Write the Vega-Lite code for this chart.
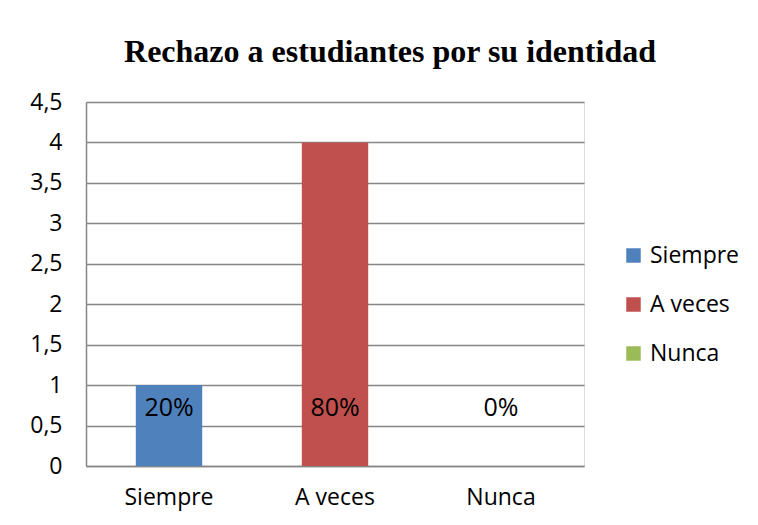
{
  "$schema": "https://vega.github.io/schema/vega-lite/v6.json",
  "width": 498,
  "height": 364,
  "autosize": "none",
  "padding": {"left": 86, "top": 102, "right": 174, "bottom": 59},
  "background": "white",
  "title": {
    "text": "Rechazo a estudiantes por su identidad",
    "font": "Liberation Serif",
    "fontSize": 32,
    "fontWeight": "bold",
    "color": "black",
    "anchor": "middle",
    "dx": 55,
    "offset": 22
  },
  "data": {
    "values": [
      {"categoria": "Siempre", "valor": 1, "etiqueta": "20%"},
      {"categoria": "A veces", "valor": 4, "etiqueta": "80%"},
      {"categoria": "Nunca", "valor": 0, "etiqueta": "0%"}
    ]
  },
  "encoding": {
    "x": {
      "field": "categoria",
      "type": "nominal",
      "sort": ["Siempre", "A veces", "Nunca"],
      "scale": {"paddingInner": 0.6, "paddingOuter": 0.3},
      "axis": {
        "title": null,
        "labelAngle": 0,
        "labelFont": "Open Sans",
        "labelFontSize": 23,
        "labelColor": "black",
        "labelPadding": 20,
        "ticks": false,
        "domainColor": "#868686",
        "domainWidth": 1.5,
        "grid": false
      }
    }
  },
  "layer": [
    {
      "mark": {"type": "bar"},
      "encoding": {
        "y": {
          "field": "valor",
          "type": "quantitative",
          "scale": {"domain": [0, 4.5], "nice": false},
          "axis": {
            "title": null,
            "values": [0, 0.5, 1, 1.5, 2, 2.5, 3, 3.5, 4, 4.5],
            "format": ".1~f",
            "labelExpr": "replace(datum.label, '.', ',')",
            "labelFont": "Open Sans",
            "labelFontSize": 23,
            "labelColor": "black",
            "labelPadding": 24,
            "ticks": false,
            "domainColor": "#868686",
            "domainWidth": 1.5,
            "gridColor": "#868686",
            "gridWidth": 1.5
          }
        },
        "color": {
          "field": "categoria",
          "type": "nominal",
          "sort": ["Siempre", "A veces", "Nunca"],
          "scale": {
            "domain": ["Siempre", "A veces", "Nunca"],
            "range": ["#4F81BD", "#C0504D", "#9BBB59"]
          },
          "legend": {
            "title": null,
            "orient": "none",
            "legendX": 536,
            "legendY": 142,
            "padding": 0,
            "symbolType": "square",
            "symbolSize": 210,
            "symbolStrokeWidth": 0,
            "labelFont": "Open Sans",
            "labelFontSize": 23,
            "labelColor": "black",
            "labelOffset": 5,
            "rowPadding": 25
          }
        }
      }
    },
    {
      "mark": {
        "type": "text",
        "font": "Open Sans",
        "fontSize": 25,
        "color": "black",
        "baseline": "middle"
      },
      "encoding": {
        "y": {"datum": 0.72, "type": "quantitative"},
        "text": {"field": "etiqueta"}
      }
    }
  ]
}
